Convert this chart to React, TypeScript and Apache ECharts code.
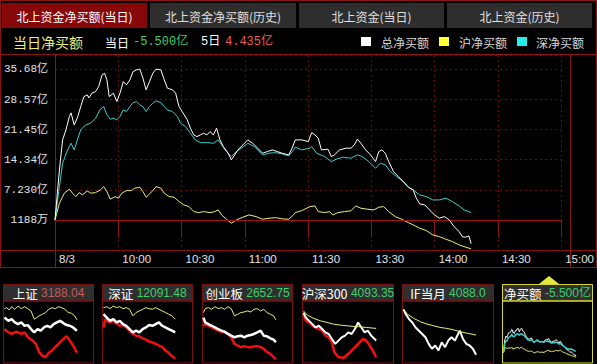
import React, { useEffect, useRef } from 'react';
import * as echarts from 'echarts';

// ---------- texts ----------
const tabLabels = ['北上资金净买额(当日)', '北上资金净买额(历史)', '北上资金(当日)', '北上资金(历史)'];
const headerTitle = '当日净买额';
const todayLabel = '当日';
const todayNet = '-5.500亿';
const fiveDayLabel = '5日';
const fiveDayNet = '4.435亿';
const legendNames = ['总净买额', '沪净买额', '深净买额'];
const xTickLabels = ['8/3', '10:00', '10:30', '11:00', '11:30', '13:30', '14:00', '14:30', '15:00'];
const yTickLabels = ['1188万', '7.230亿', '14.34亿', '21.45亿', '28.57亿', '35.68亿'];
const yBase = 0.1188; // 亿
const yStep = 7.11165; // 亿 per tick
const yAxisMax = 39.08;

// ---------- main series: [trading minute since 9:30, 亿] ----------
const totalNet = [
  [0, 0.12], [2.1, 11.93], [3.6, 19.02], [5.2, 21.38], [6.8, 24.53], [7.6, 25.4], [9.1, 22.57], [10.6, 24.22],
  [12.2, 26.89], [13.7, 29.25], [15.3, 29.65], [16.1, 28.94], [17.6, 30.12], [19.2, 30.43], [20.7, 31.61],
  [22.3, 34.38], [23.5, 34.78], [24.6, 33.2], [25.7, 29.25], [27.7, 30.06], [29.3, 28.07], [30.8, 30.06],
  [32.4, 32.8], [33.9, 32.02], [35.5, 33.2], [37.0, 35.16], [38.6, 35.56], [40.2, 35.73], [41.7, 33.6],
  [43.2, 30.84], [44.8, 32.8], [46.4, 34.78], [47.9, 35.73], [50.2, 35.56], [51.8, 33.2], [53.3, 31.24],
  [55.7, 30.84], [57.2, 30.06], [58.8, 26.89], [60.3, 25.71], [62.7, 23.75], [64.2, 21.79], [65.8, 20.2],
  [67.3, 19.8], [68.9, 20.2], [70.4, 20.6], [72.0, 20.2], [73.5, 20.98], [75.1, 20.2], [76.6, 21.79],
  [78.2, 19.02], [79.8, 17.44], [82.1, 15.88], [83.6, 14.3], [85.2, 15.48], [86.7, 16.66], [89.1, 17.84],
  [91.4, 19.02], [93.7, 18.24], [96.1, 17.06], [98.4, 15.88], [100.7, 16.26], [103.0, 16.66], [105.4, 16.26],
  [107.7, 15.88], [110.8, 15.48], [112.4, 17.06], [113.9, 19.02], [117.0, 19.02], [120.1, 18.62], [121.7, 20.75],
  [123.2, 20.2], [124.8, 19.42], [126.3, 16.66], [129.4, 16.82], [131.0, 15.08], [132.5, 15.48], [134.9, 16.66],
  [138.0, 17.06], [140.3, 17.06], [141.9, 17.84], [143.4, 19.19], [145.0, 18.24], [147.3, 16.66], [149.6, 15.48],
  [152.0, 13.89], [153.5, 16.26], [155.0, 16.66], [156.6, 15.88], [158.2, 13.89], [160.5, 11.53], [162.8, 10.35],
  [165.1, 9.17], [167.5, 7.85], [169.8, 7.21], [171.3, 5.25], [172.9, 3.9], [175.3, 3.66], [177.6, 2.48],
  [179.9, 1.3], [182.2, 0.52], [184.6, 0.9], [186.9, 0.12], [189.2, -1.46], [191.6, -2.65], [193.1, -3.83],
  [194.6, -3.97], [196.2, -3.66], [197.3, -5.5],
];
const szNet = [
  [0, 0.12], [2.1, 7.99], [3.6, 13.52], [6.0, 16.66], [7.6, 18.24], [9.1, 16.66], [10.6, 19.02], [12.2, 21.38],
  [14.5, 22.57], [16.9, 22.97], [19.2, 24.15], [21.5, 26.28], [23.1, 26.89], [24.6, 24.93], [26.2, 23.91],
  [27.7, 24.15], [29.3, 23.75], [30.8, 24.53], [32.4, 26.11], [33.9, 25.71], [35.5, 26.89], [37.0, 27.83],
  [38.6, 28.07], [40.2, 27.29], [41.7, 26.89], [43.2, 25.71], [44.8, 26.89], [46.4, 27.69], [47.9, 28.24],
  [50.2, 27.83], [51.8, 26.89], [53.3, 26.11], [55.7, 25.71], [58.0, 24.53], [59.5, 22.97], [61.9, 22.16],
  [64.2, 20.6], [66.5, 19.02], [68.9, 18.38], [72.0, 18.38], [75.1, 18.24], [77.4, 19.02], [79.0, 17.84],
  [81.3, 16.26], [83.6, 15.08], [86.0, 16.26], [88.3, 17.06], [91.4, 18.24], [94.5, 17.44], [98.4, 15.48],
  [101.5, 15.88], [104.6, 16.02], [107.7, 15.71], [110.8, 15.24], [113.1, 16.66], [113.9, 17.3], [117.0, 16.66],
  [120.9, 17.06], [121.7, 17.44], [124.0, 15.88], [127.9, 15.08], [131.0, 13.89], [133.3, 14.46], [136.4, 14.93],
  [140.3, 14.7], [143.4, 15.48], [145.7, 15.08], [148.8, 13.89], [152.0, 12.33], [154.3, 13.52], [156.6, 13.11],
  [159.0, 11.53], [162.0, 10.35], [165.1, 9.17], [167.5, 7.85], [169.8, 7.21], [172.9, 6.03], [176.0, 5.62],
  [179.1, 4.84], [182.2, 4.84], [185.3, 5.25], [188.4, 4.44], [191.6, 3.43], [193.9, 2.48], [195.4, 2.25],
  [197.3, 1.84],
];
const shNet = [
  [0, 0.12], [2.1, 4.06], [4.4, 6.43], [6.8, 7.37], [8.3, 6.43], [9.9, 5.62], [11.4, 6.57], [13.0, 6.03],
  [15.3, 6.97], [16.9, 6.43], [19.2, 6.57], [21.5, 7.21], [23.1, 7.99], [24.6, 6.81], [26.2, 5.01], [28.5, 5.62],
  [30.1, 5.25], [31.6, 6.43], [33.9, 7.04], [36.2, 7.04], [37.8, 7.61], [40.2, 7.85], [41.7, 6.81], [43.2, 5.48],
  [44.8, 6.26], [46.4, 7.04], [47.9, 7.99], [50.2, 7.61], [51.8, 6.43], [54.1, 5.62], [56.5, 5.48], [58.8, 4.44],
  [61.1, 3.66], [63.5, 3.26], [65.8, 2.08], [68.1, 1.84], [70.4, 2.08], [73.5, 1.84], [75.8, 2.08], [77.4, 2.48],
  [79.0, 1.3], [81.3, 0.28], [83.6, -0.66], [86.0, 0.12], [89.1, 0.76], [92.1, 1.3], [95.3, 0.9], [98.4, 0.28],
  [101.5, 0.52], [104.6, 0.66], [107.7, 0.36], [110.8, 0.28], [113.1, 1.3], [113.9, 1.84], [117.0, 2.32],
  [120.9, 3.26], [123.2, 3.43], [124.8, 2.08], [127.9, 1.84], [130.2, 2.08], [131.7, 1.3], [134.1, 1.84],
  [137.2, 2.08], [140.3, 2.25], [142.6, 3.43], [145.0, 2.88], [148.0, 2.65], [151.2, 2.48], [153.5, 3.12],
  [155.8, 3.26], [158.2, 2.08], [161.3, 0.9], [164.4, 0.28], [167.5, -0.52], [169.8, -1.06], [172.9, -1.84],
  [176.0, -2.41], [179.1, -3.42], [182.2, -3.83], [185.3, -4.44], [188.4, -5.01], [191.6, -5.79], [193.9, -6.19],
  [197.3, -6.73],
];

// ---------- thumbnails (relative level 0-100 within each mini chart) ----------
const thumbTitles = ['上证', '深证', '创业板', '沪深300', 'IF当月', '净买额'];
const thumbValues = ['3188.04', '12091.48', '2652.75', '4093.35', '4088.0', '-5.500亿'];

const shYellow = [[0, 88.9], [6.2, 90.6], [12.3, 86.8], [19.4, 92.2], [28.2, 87.8], [37.0, 93.3], [45.9, 88.9], [54.7, 92.2], [63.5, 88.9], [72.3, 85.1], [81.1, 71.4], [88.2, 74.1], [94.4, 76.9], [103.2, 79.6], [112.0, 82.4], [120.8, 87.8], [129.7, 90.6], [138.5, 88.9], [147.3, 92.2], [156.1, 90.6], [164.9, 87.8], [173.8, 82.4], [182.6, 81.3], [191.4, 76.9], [197.6, 70.3]];
const shWhite = [[0, 74.1], [10.6, 68.6], [19.4, 71.4], [28.2, 65.9], [37.0, 63.1], [45.9, 65.9], [54.7, 60.4], [63.5, 61.5], [72.3, 54.9], [81.1, 49.4], [90.0, 54.9], [98.8, 52.2], [107.6, 57.6], [116.4, 60.4], [125.2, 57.6], [134.1, 63.1], [142.9, 65.9], [151.7, 68.6], [160.5, 64.8], [169.3, 61.5], [178.2, 60.4], [187.0, 57.6], [197.6, 52.2]];
const shRed = [[0, 54.9], [10.6, 49.4], [19.4, 46.7], [32.6, 50.5], [45.9, 46.7], [54.7, 49.4], [63.5, 41.2], [76.7, 35.7], [85.6, 30.2], [94.4, 16.5], [103.2, 9.9], [112.0, 8.2], [120.8, 15.4], [129.7, 19.2], [138.5, 24.7], [147.3, 30.2], [156.1, 35.7], [164.9, 41.2], [169.3, 42.8], [178.2, 35.7], [187.0, 27.5], [197.6, 15.4]];

const szYellow = [[0, 90.6], [8.9, 92.2], [17.8, 88.9], [26.7, 93.3], [35.6, 90.6], [44.4, 92.2], [53.3, 88.9], [62.2, 90.6], [71.1, 87.8], [80.0, 76.9], [88.9, 82.4], [97.8, 85.1], [106.7, 87.8], [115.6, 90.6], [124.4, 88.9], [133.3, 87.8], [142.2, 90.6], [151.1, 87.8], [160.0, 85.1], [168.9, 82.4], [177.8, 79.6], [186.7, 76.9], [195.6, 71.4]];
const szWhite = [[0, 79.6], [8.9, 74.1], [17.8, 68.6], [26.7, 71.4], [35.6, 65.9], [44.4, 68.6], [53.3, 63.1], [62.2, 60.4], [71.1, 54.9], [80.0, 49.4], [88.9, 52.2], [97.8, 49.4], [106.7, 54.9], [115.6, 57.6], [124.4, 61.5], [133.3, 60.4], [142.2, 63.1], [151.1, 65.9], [160.0, 60.4], [168.9, 57.6], [177.8, 54.9], [186.7, 52.2], [195.6, 49.4]];
const szRed = [[0, 57.6], [4.4, 71.4], [8.9, 68.6], [17.8, 65.9], [26.7, 68.6], [35.6, 64.8], [44.4, 60.4], [53.3, 61.5], [62.2, 57.6], [71.1, 52.2], [80.0, 46.7], [88.9, 43.9], [97.8, 42.8], [106.7, 39.5], [115.6, 37.3], [124.4, 34.0], [133.3, 32.9], [142.2, 30.2], [151.1, 27.5], [160.0, 24.7], [168.9, 19.2], [177.8, 15.4], [186.7, 9.9], [195.6, 5.5]];

const cyYellow = [[0, 82.4], [4.4, 88.9], [13.3, 90.6], [22.2, 87.8], [31.1, 92.2], [40.0, 88.9], [48.9, 90.6], [57.8, 87.8], [66.7, 92.2], [75.6, 88.9], [84.4, 76.9], [93.3, 79.6], [102.2, 82.4], [111.1, 83.4], [120.0, 85.1], [128.9, 83.4], [137.8, 87.8], [146.7, 88.9], [155.6, 85.1], [164.4, 87.8], [173.3, 82.4], [182.2, 79.6], [191.1, 76.9], [197.4, 70.3]];
const cyWhite = [[0, 74.1], [4.4, 65.9], [13.3, 63.1], [22.2, 60.4], [31.1, 57.6], [40.0, 54.9], [48.9, 52.2], [57.8, 50.5], [66.7, 46.7], [75.6, 43.9], [84.4, 41.2], [93.3, 42.8], [102.2, 43.9], [111.1, 41.2], [120.0, 43.9], [128.9, 45.0], [137.8, 46.7], [146.7, 49.4], [155.6, 52.2], [164.4, 43.9], [173.3, 42.8], [182.2, 39.5], [191.1, 37.3], [197.4, 32.9]];
const cyRed = [[0, 60.4], [4.4, 63.1], [13.3, 60.4], [22.2, 57.6], [31.1, 54.9], [40.0, 52.2], [48.9, 50.5], [57.8, 49.4], [66.7, 46.7], [75.6, 41.2], [84.4, 30.2], [93.3, 27.5], [102.2, 24.7], [111.1, 26.4], [120.0, 24.7], [128.9, 24.7], [137.8, 25.8], [146.7, 26.4], [155.6, 24.7], [164.4, 22.0], [173.3, 16.5], [182.2, 13.7], [191.1, 8.2], [197.4, 4.4]];

const hs300Yellow = [[0, 85.1], [10.6, 78.0], [28.2, 72.5], [45.9, 68.6], [63.5, 65.9], [81.1, 63.1], [98.8, 61.5], [116.4, 60.4], [134.1, 59.3], [151.7, 58.7], [169.3, 57.6], [195.8, 56.0]];
const hs300White = [[0, 82.4], [6.2, 74.1], [15.0, 68.6], [23.8, 63.1], [32.6, 57.6], [41.5, 60.4], [50.3, 54.9], [59.1, 49.4], [67.9, 46.7], [76.7, 38.4], [85.6, 30.2], [94.4, 35.7], [103.2, 41.2], [112.0, 43.9], [120.8, 49.4], [129.7, 46.7], [138.5, 54.9], [147.3, 65.9], [156.1, 57.6], [164.9, 49.4], [173.8, 52.2], [182.6, 43.9], [195.8, 35.7]];
const hs300Red = [[0, 79.6], [6.2, 68.6], [15.0, 65.9], [23.8, 60.4], [32.6, 57.6], [41.5, 54.9], [50.3, 52.2], [59.1, 43.9], [67.9, 41.2], [76.7, 32.9], [82.9, 16.5], [94.4, 8.2], [107.6, 6.6], [120.8, 13.7], [134.1, 22.0], [147.3, 30.2], [160.5, 38.4], [169.3, 35.7], [178.2, 27.5], [187.0, 19.2], [195.8, 8.2]];

const ifYellow = [[0, 87.8], [10.6, 79.6], [28.2, 72.5], [45.9, 67.0], [63.5, 63.1], [81.1, 60.4], [98.8, 57.6], [116.4, 56.0], [134.1, 53.8], [151.7, 50.5], [169.3, 48.3], [195.8, 45.0]];
const ifWhite = [[0, 87.8], [6.2, 79.6], [15.0, 71.4], [23.8, 65.9], [32.6, 57.6], [41.5, 52.2], [50.3, 46.7], [59.1, 41.2], [67.9, 30.2], [76.7, 22.0], [85.6, 27.5], [94.4, 19.2], [103.2, 32.9], [112.0, 24.7], [120.8, 35.7], [129.7, 41.2], [138.5, 35.7], [147.3, 46.7], [151.7, 52.2], [160.5, 38.4], [169.3, 30.2], [178.2, 27.5], [187.0, 22.0], [195.8, 12.1]];

// ---------- colours ----------
const C = {
  frame: '#8c1414',
  dotted: '#620c0c',
  base: '#a01212',
  white: '#ffffff',
  yellow: '#eeee78',
  cyan: '#3ccccc',
  red: '#f01010',
  green: '#3ccf6a',
  upRed: '#f05a5a',
  dullRed: '#c45c5c',
  text: '#e4e4e4',
};

const CJK = 'Noto Sans CJK SC';
const MONO = 'Liberation Mono, Noto Sans CJK SC';
const SANS = 'Liberation Sans, Noto Sans CJK SC';

const boxes = [
  { x: 3, w: 90 }, { x: 102, w: 90 }, { x: 202, w: 90 },
  { x: 302, w: 91 }, { x: 402, w: 91 }, { x: 502, w: 90 },
];

function buildOption() {
  const yMin = yBase - yStep;
  const graphics: any[] = [];
  const hline = (x1: number, x2: number, y: number, color = C.frame) =>
    graphics.push({ type: 'line', silent: true, shape: { x1, y1: y, x2, y2: y }, style: { stroke: color, lineWidth: 1 } });
  const vline = (x: number, y1: number, y2: number, color = C.frame) =>
    graphics.push({ type: 'line', silent: true, shape: { x1: x, y1, x2: x, y2 }, style: { stroke: color, lineWidth: 1 } });

  // tabs
  const tabs = [{ x: 2, w: 145 }, { x: 150, w: 146 }, { x: 299, w: 145 }, { x: 447, w: 145 }];
  tabs.forEach((t, i) => {
    graphics.push({ type: 'rect', silent: true, shape: { x: t.x, y: 3, width: t.w, height: 25 }, style: { fill: i === 0 ? '#860808' : '#2e2e2e' } });
    graphics.push({
      type: 'text', silent: true, x: t.x + t.w / 2, y: 16,
      style: { text: tabLabels[i], fill: i === 0 ? '#ffffff' : '#e0e0e0', fontSize: 12, fontFamily: CJK, align: 'center', verticalAlign: 'middle' },
    });
  });
  hline(0, 597, 0.5);

  // header row
  graphics.push({ type: 'text', silent: true, x: 13, y: 42, style: { text: headerTitle, fill: C.yellow, fontSize: 14, fontFamily: CJK, verticalAlign: 'middle' } });
  graphics.push({ type: 'text', silent: true, x: 105, y: 42, style: { text: todayLabel, fill: '#ffffff', fontSize: 12, fontFamily: CJK, verticalAlign: 'middle' } });
  graphics.push({ type: 'text', silent: true, x: 133, y: 42, style: { text: todayNet, fill: C.green, fontSize: 12, fontFamily: MONO, verticalAlign: 'middle' } });
  graphics.push({ type: 'text', silent: true, x: 201, y: 42, style: { text: fiveDayLabel, fill: '#ffffff', fontSize: 12, fontFamily: MONO, verticalAlign: 'middle' } });
  graphics.push({ type: 'text', silent: true, x: 225, y: 42, style: { text: fiveDayNet, fill: C.upRed, fontSize: 12, fontFamily: MONO, verticalAlign: 'middle' } });

  // legend
  const legendPos = [{ sq: 361, tx: 381, c: C.white }, { sq: 439, tx: 459, c: '#ffff33' }, { sq: 517, tx: 536, c: '#22eeee' }];
  legendPos.forEach((p, i) => {
    graphics.push({ type: 'rect', silent: true, shape: { x: p.sq, y: 37, width: 10, height: 9 }, style: { fill: p.c } });
    graphics.push({ type: 'text', silent: true, x: p.tx, y: 42, style: { text: legendNames[i], fill: '#d8d8d8', fontSize: 12, fontFamily: CJK, verticalAlign: 'middle' } });
  });

  // frame
  hline(0, 597, 54.5);
  hline(0, 597, 250.5);
  hline(0, 597, 267.5);
  vline(0.5, 0, 268);
  vline(596.5, 0, 268);
  vline(55.5, 54, 268);
  vline(570.5, 54, 268);

  // thumbnails
  boxes.forEach((b, i) => {
    const last = i === boxes.length - 1;
    const stroke = last ? '#d8d830' : '#7a1010';
    graphics.push({ type: 'rect', silent: true, shape: { x: b.x + 0.5, y: 284.5, width: b.w, height: 16.5 }, style: { fill: '#2f2f2f', stroke, lineWidth: 1 } });
    graphics.push({ type: 'rect', silent: true, shape: { x: b.x + 0.5, y: 301, width: b.w, height: 62 }, style: { fill: 'transparent', stroke, lineWidth: 1 } });
    const valColor = i === 0 ? C.dullRed : C.green;
    graphics.push({
      type: 'text', silent: true, x: b.x + b.w / 2 + 0.5, y: 293,
      style: {
        text: `{n|${thumbTitles[i]}} {v|${thumbValues[i]}}`,
        align: 'center', verticalAlign: 'middle',
        rich: {
          n: { fill: '#ffffff', fontSize: 12.5, fontFamily: CJK },
          v: { fill: valColor, fontSize: 12, fontFamily: SANS },
        },
      },
    });
  });
  graphics.push({ type: 'polygon', silent: true, shape: { points: [[539, 284], [559, 284], [549, 276]] }, style: { fill: '#e6e63c' } });

  const grids: any[] = [{ left: 55, right: 27, top: 55, bottom: 114 }];
  const xAxes: any[] = [{
    type: 'value', gridIndex: 0, min: 0, max: 240, interval: 30,
    axisLine: { show: true, lineStyle: { color: C.frame, width: 1 } },
    axisTick: { show: true, length: 17, inside: false, lineStyle: { color: C.frame, width: 1 } },
    splitLine: { show: true, lineStyle: { color: C.dotted, type: [2, 3], width: 1 } },
    axisLabel: {
      show: true, margin: 3, align: 'left', padding: [0, 0, 0, 4], color: C.text, fontSize: 11.5, fontFamily: SANS,
      formatter: (v: number) => xTickLabels[Math.round(v / 30)] ?? '',
    },
  }];
  const yAxes: any[] = [{
    type: 'value', gridIndex: 0, min: yMin, max: yAxisMax, interval: yStep,
    axisLine: { show: true, lineStyle: { color: C.frame, width: 1 } },
    axisTick: { show: false },
    splitLine: { show: true, lineStyle: { color: C.dotted, type: [2, 3], width: 1 } },
    axisLabel: {
      show: true, margin: 7, color: C.text, fontSize: 11, fontFamily: MONO,
      formatter: (v: number) => {
        const k = Math.round((v - yBase) / yStep);
        if (k < 0 || k >= yTickLabels.length) return '';
        if (Math.abs(v - (yBase + k * yStep)) > 0.01) return '';
        return yTickLabels[k];
      },
    },
  }];

  const series: any[] = [
    {
      name: legendNames[1], type: 'line', xAxisIndex: 0, yAxisIndex: 0, data: shNet, showSymbol: false, z: 3,
      lineStyle: { color: C.yellow, width: 1 }, itemStyle: { color: C.yellow },
      markLine: {
        silent: true, symbol: ['none', 'none'], label: { show: false },
        lineStyle: { color: C.base, type: 'solid', width: 1 },
        data: [{ yAxis: yBase }],
      },
    },
    { name: legendNames[2], type: 'line', xAxisIndex: 0, yAxisIndex: 0, data: szNet, showSymbol: false, z: 4, lineStyle: { color: C.cyan, width: 1 }, itemStyle: { color: C.cyan } },
    { name: legendNames[0], type: 'line', xAxisIndex: 0, yAxisIndex: 0, data: totalNet, showSymbol: false, z: 5, lineStyle: { color: C.white, width: 1 }, itemStyle: { color: C.white } },
  ];

  const thumbLines = [
    [{ d: shYellow, c: C.yellow, w: 1 }, { d: shRed, c: C.red, w: 2.5 }, { d: shWhite, c: C.white, w: 2.5 }],
    [{ d: szYellow, c: C.yellow, w: 1 }, { d: szRed, c: C.red, w: 2.5 }, { d: szWhite, c: C.white, w: 2.5 }],
    [{ d: cyYellow, c: C.yellow, w: 1 }, { d: cyRed, c: C.red, w: 2.5 }, { d: cyWhite, c: C.white, w: 2.5 }],
    [{ d: hs300Red, c: C.red, w: 2.5 }, { d: hs300White, c: C.white, w: 2 }, { d: hs300Yellow, c: C.yellow, w: 1 }],
    [{ d: ifWhite, c: C.white, w: 2 }, { d: ifYellow, c: C.yellow, w: 1 }],
    [{ d: shNet, c: C.yellow, w: 1 }, { d: totalNet, c: C.white, w: 1 }, { d: szNet, c: C.cyan, w: 1.5 }],
  ];

  boxes.forEach((b, i) => {
    const gi = i + 1;
    grids.push({ left: b.x + 1.5, width: b.w - 2, top: 302, height: 60 });
    xAxes.push({ type: 'value', gridIndex: gi, min: 0, max: 240, show: false });
    const last = i === boxes.length - 1;
    yAxes.push({ type: 'value', gridIndex: gi, min: last ? -14 : 0, max: last ? 75 : 100, show: false });
    thumbLines[i].forEach((l, j) => {
      series.push({
        name: `${thumbTitles[i]}-${j}`, type: 'line', xAxisIndex: gi, yAxisIndex: gi, data: l.d,
        showSymbol: false, z: 3 + j, lineStyle: { color: l.c, width: l.w }, itemStyle: { color: l.c },
      });
    });
  });

  return {
    animation: false,
    backgroundColor: '#000000',
    grid: grids,
    xAxis: xAxes,
    yAxis: yAxes,
    series,
    graphic: { elements: graphics },
  };
}

export default function App() {
  const ref = useRef<HTMLDivElement>(null);
  useEffect(() => {
    if (!ref.current) return;
    const chart = echarts.init(ref.current, undefined, { renderer: 'svg' });
    chart.setOption(buildOption() as any);
    return () => chart.dispose();
  }, []);
  return (
    <div
      ref={ref}
      style={{ position: 'fixed', left: 0, top: 0, width: 597, height: 364, background: '#000' }}
    />
  );
}
